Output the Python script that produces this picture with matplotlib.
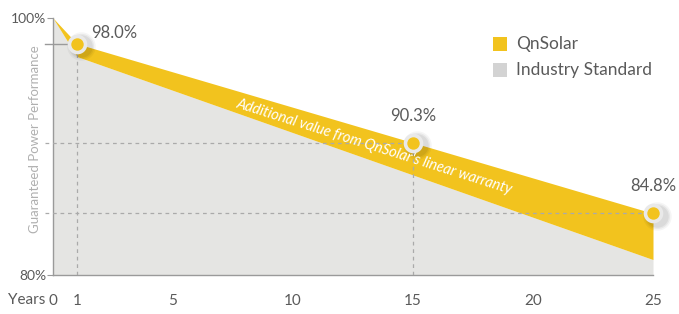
import matplotlib
matplotlib.use("Agg")
import matplotlib.pyplot as plt

plt.rcParams['font.family'] = ['Lato', 'DejaVu Sans']

years = [0, 1, 25]
qnsolar = [100.0, 98.0, 84.8]
industry = [100.0, 97.0, 81.2]
marker_years = [1, 15, 25]
marker_values = [98.0, 90.3, 84.8]
marker_labels = ["98.0%", "90.3%", "84.8%"]
xtick_vals = [0, 1, 5, 10, 15, 20, 25]
ytick_vals = [80, 100]
ytick_labels = ["80%", "100%"]

YELLOW = "#F2C31E"
GREY = "#E5E5E3"
TXT = "#5a5a5a"

fig = plt.figure(figsize=(6.79, 3.14), dpi=100)
ax = fig.add_axes([53/679, 1-275/314, (653-53)/679, (275-18)/314])
ax.set_xlim(0, 25)
ax.set_ylim(80, 100)

ax.fill_between(years, 80, industry, color=GREY, lw=0, zorder=1)
ax.fill_between(years, industry, qnsolar, color=YELLOW, lw=0, zorder=1)

for sp in ["top", "right"]:
    ax.spines[sp].set_visible(False)
for sp in ["left", "bottom"]:
    ax.spines[sp].set_color("#9a9a9a")
    ax.spines[sp].set_linewidth(1.0)

ax.set_xticks(xtick_vals)
ax.set_xticklabels([str(v) for v in xtick_vals], color=TXT, fontsize=11)
ax.tick_params(axis='x', length=0, pad=14)
ax.set_yticks(ytick_vals)
ax.set_yticklabels(ytick_labels, color=TXT, fontsize=10)
ax.tick_params(axis='y', length=4, color="#9a9a9a", pad=1)
ax.text(-0.012, -0.098, "Years", transform=ax.transAxes, ha='right', va='center',
        color=TXT, fontsize=11)
ax.text(-0.03, 0.53, "Guaranteed Power Performance", transform=ax.transAxes, rotation=90,
        ha='center', va='center', color="#b0b0b0", fontsize=9.5)

# reference lines
x0 = -8/24.0
ax.plot([x0, marker_years[0]], [marker_values[0]]*2, color="#9a9a9a", lw=1.0, zorder=3, clip_on=False)
for xm, ym in zip(marker_years[1:], marker_values[1:]):
    ax.plot([x0, xm], [ym, ym], color="#aaaaaa", lw=0.9, ls=(0, (3, 3)), zorder=3, clip_on=False)
for xm, ym in zip(marker_years[:2], marker_values[:2]):
    ax.plot([xm, xm], [80, ym], color="#aaaaaa", lw=0.9, ls=(0, (3, 3)), zorder=3)

# markers with soft shadow
for xm, ym in zip(marker_years, marker_values):
    for s, a in [(420, 0.04), (330, 0.05), (260, 0.06)]:
        ax.scatter([xm + 0.15], [ym - 0.2], s=s, color="#000000", alpha=a, lw=0, zorder=4, clip_on=False)
    ax.scatter([xm], [ym], s=200, color="#E9E9E9", lw=0, zorder=5, clip_on=False)
    ax.scatter([xm], [ym], s=80, color=YELLOW, lw=0, zorder=6, clip_on=False)

offsets = [(0.6, 0.8), (0, 2.1), (0, 2.1)]
has = ['left', 'center', 'center']
for (xm, ym), lab, (dx, dy), ha in zip(zip(marker_years, marker_values), marker_labels, offsets, has):
    ax.text(xm + dx, ym + dy, lab, ha=ha, va='center', color=TXT,
            fontsize=12, zorder=7)

ax.text(13.4, 90.0, "Additional value from QnSolar's linear warranty", rotation=-17.5,
        rotation_mode='anchor', ha='center', va='center', color="white", fontsize=10.5,
        style='italic', zorder=4)

# legend
fig.patches.append(plt.Rectangle((493/679, 1-51/314), 14/679, 14/314, transform=fig.transFigure,
                                 color=YELLOW, lw=0))
fig.patches.append(plt.Rectangle((493/679, 1-77/314), 14/679, 14/314, transform=fig.transFigure,
                                 color="#D3D3D3", lw=0))
fig.text(516/679, 1-44/314, "QnSolar", ha='left', va='center', color=TXT, fontsize=12.5)
fig.text(516/679, 1-70/314, "Industry Standard", ha='left', va='center', color=TXT, fontsize=12.5)

fig.savefig("out.png", dpi=100)
